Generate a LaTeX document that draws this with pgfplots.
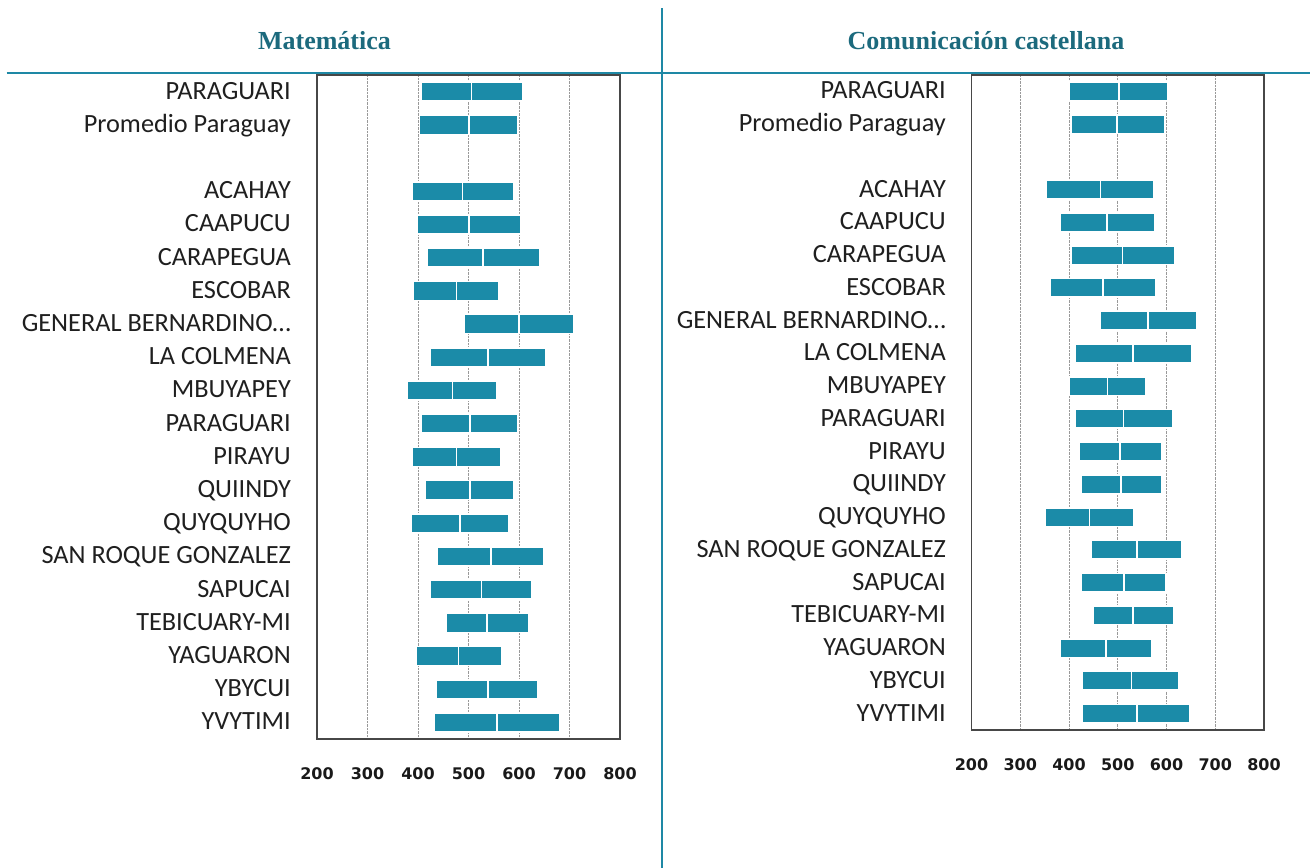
\documentclass[border=0pt]{standalone}
\usepackage{pgfplots}
\pgfplotsset{compat=1.18}
\usepackage{pgfplotstable}
\usepackage{fontspec}
\setmainfont{Carlito}
\newfontfamily\tickfont{DejaVu Sans}
\newfontfamily\titlefont{Liberation Serif}
\definecolor{barc}{HTML}{1B8BA8}
\definecolor{linec}{HTML}{1E88A5}
\definecolor{titlec}{HTML}{1C6A7D}
\definecolor{labc}{HTML}{1F1F1F}

% Matematica: low, median split, high
\pgfplotstableread{
row low mid high
0 407 506 608
1 403 501 598
3 389 488 590
4 399 501 603
5 419 529 642
6 391 476 560
7 491 600 708
8 425 539 654
9 378 468 557
10 407 503 598
11 389 476 563
12 414 503 590
13 386 483 580
14 439 544 649
15 425 526 626
16 455 537 619
17 396 480 565
18 437 539 638
19 432 557 680
}\mat

% Comunicacion castellana
\pgfplotstableread{
row low mid high
0 401 502 602
1 405 499 597
3 354 465 574
4 381 478 576
5 405 510 618
6 362 470 578
7 465 562 662
8 412 531 652
9 401 479 557
10 412 512 613
11 420 505 591
12 425 507 591
13 352 442 533
14 446 539 631
15 425 513 599
16 449 531 615
17 381 476 570
18 428 528 626
19 428 539 647
}\com

\pgfplotsset{
  panel/.style={
    scale only axis,
    anchor=south west,
    xbar stacked,
    xmin=200, xmax=800,
    ymin=-0.5, ymax=19.5,
    y dir=reverse,
    xtick={200,300,...,800},
    ytick={0,1,3,4,5,6,7,8,9,10,11,12,13,14,15,16,17,18,19},
    yticklabels={PARAGUARI,Promedio Paraguay,ACAHAY,CAAPUCU,CARAPEGUA,ESCOBAR,GENERAL BERNARDINO…,LA COLMENA,MBUYAPEY,PARAGUARI,PIRAYU,QUIINDY,QUYQUYHO,SAN ROQUE GONZALEZ,SAPUCAI,TEBICUARY-MI,YAGUARON,YBYCUI,YVYTIMI},
    major tick length=0pt,
    xmajorgrids,
    grid style={densely dotted, gray!80, line width=0.9bp},
    axis line style={draw=black!72, line width=1.6bp},
    /pgf/number format/assume math mode=true,
    xticklabel style={font=\tickfont\bfseries\fontsize{16bp}{18bp}\selectfont, text=black!90, inner sep=0pt, anchor=north, yshift=-28.5bp},
    yticklabel style={font=\fontsize{26.3bp}{30bp}\selectfont, text=labc, inner sep=0pt, anchor=base east, yshift=-7.5bp},
  },
  seg/.style={fill=barc, draw=white, line width=1.6bp},
}

\begin{document}
\begin{tikzpicture}
\useasboundingbox (0,0) rectangle (1310bp,-868bp);
\draw[linec, line width=2bp] (6.7bp,-72.7bp) -- (1310bp,-72.7bp);
\draw[linec, line width=2bp] (661.7bp,-8bp) -- (661.7bp,-868bp);
\node[anchor=base, text=titlec, font=\titlefont\bfseries\fontsize{26bp}{30bp}\selectfont] at (324.5bp,-49.3bp) {Matemática};
\node[anchor=base, text=titlec, font=\titlefont\bfseries\fontsize{26bp}{30bp}\selectfont] at (986bp,-49.3bp) {Comunicación castellana};

\begin{axis}[panel, at={(317bp,-739bp)}, width=303bp, height=664bp, bar width=19bp,
  yticklabel style={xshift=-26bp}]
\addplot[draw=none, fill=none] table[x=low, y=row]{\mat};
\addplot[seg] table[x expr=\thisrow{mid}-\thisrow{low}, y=row]{\mat};
\addplot[seg] table[x expr=\thisrow{high}-\thisrow{mid}, y=row]{\mat};
\end{axis}

\begin{axis}[panel, at={(971.5bp,-730bp)}, width=292.5bp, height=655bp, bar width=18.5bp,
  yticklabel style={xshift=-25.5bp}]
\addplot[draw=none, fill=none] table[x=low, y=row]{\com};
\addplot[seg] table[x expr=\thisrow{mid}-\thisrow{low}, y=row]{\com};
\addplot[seg] table[x expr=\thisrow{high}-\thisrow{mid}, y=row]{\com};
\end{axis}
\end{tikzpicture}
\end{document}
